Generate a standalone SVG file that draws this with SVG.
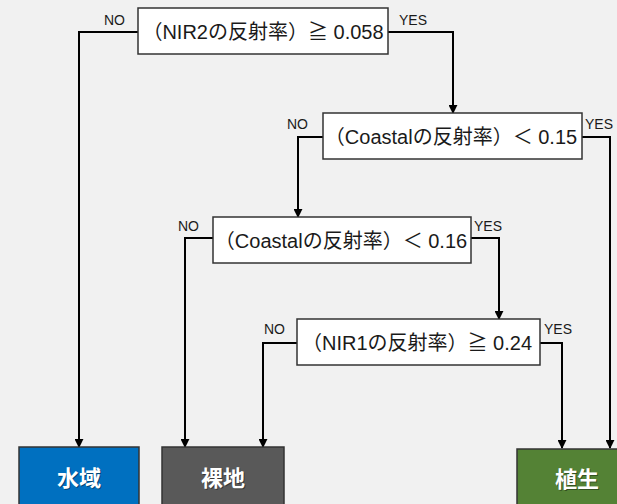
<svg xmlns="http://www.w3.org/2000/svg" width="617" height="504" viewBox="0 0 617 504">
<defs>
<style>
.cond{fill:#ffffff;stroke:#333333;stroke-width:1.5}
.ctext{font-family:"Liberation Sans","Noto Sans CJK JP",sans-serif;font-size:20px;fill:#1a1a1a;text-anchor:middle;dominant-baseline:central}
.lbl{font-family:"Liberation Sans","Noto Sans CJK JP",sans-serif;font-size:14px;fill:#1a1a1a}
.leaf{stroke:#333333;stroke-width:1.5}
.ltext{font-family:"Noto Sans CJK JP","Liberation Sans",sans-serif;font-size:22px;font-weight:bold;fill:#ffffff;text-anchor:middle;dominant-baseline:central}
.lshadow{font-family:"Noto Sans CJK JP","Liberation Sans",sans-serif;font-size:22px;font-weight:bold;fill:#000000;fill-opacity:0.4;text-anchor:middle;dominant-baseline:central}
.conn{fill:none;stroke:#000000;stroke-width:2;marker-end:url(#arr)}
</style>
<marker id="arr" viewBox="0 0 10 10" refX="9" refY="5" markerWidth="4.5" markerHeight="4.5" orient="auto" markerUnits="strokeWidth">
<path d="M0,0 L10,5 L0,10 z" fill="#000000"/>
</marker>
</defs>
<rect x="0" y="0" width="617" height="504" fill="#f1f1f1"/>
<g id="connectors">
<polyline class="conn" points="138,32 79,32 79,447"/>
<polyline class="conn" points="388,32 453,32 453,113"/>
<polyline class="conn" points="323,137 298,137 298,217"/>
<polyline class="conn" points="582,137 610,137 610,448"/>
<polyline class="conn" points="213,238 185,238 185,447"/>
<polyline class="conn" points="471,238 499,238 499,319"/>
<polyline class="conn" points="297,343 263,343 263,447"/>
<polyline class="conn" points="540,343 562,343 562,448"/>
</g>
<g id="labels">
<text class="lbl" x="104" y="25">NO</text>
<text class="lbl" x="399" y="25">YES</text>
<text class="lbl" x="287" y="129">NO</text>
<text class="lbl" x="585" y="129">YES</text>
<text class="lbl" x="178" y="231">NO</text>
<text class="lbl" x="474" y="231">YES</text>
<text class="lbl" x="264" y="334">NO</text>
<text class="lbl" x="544" y="334">YES</text>
</g>
<g id="node1">
<rect class="cond" x="138" y="8" width="250" height="46"/>
<text class="ctext" x="263" y="32">（NIR2の反射率）≧ 0.058</text>
</g>
<g id="node2">
<rect class="cond" x="323" y="113" width="259" height="46"/>
<text class="ctext" x="451" y="137">（Coastalの反射率）＜ 0.15</text>
</g>
<g id="node3">
<rect class="cond" x="213" y="217" width="258" height="46"/>
<text class="ctext" x="341" y="241">（Coastalの反射率）＜ 0.16</text>
</g>
<g id="node4">
<rect class="cond" x="297" y="319" width="243" height="46"/>
<text class="ctext" x="417" y="343">（NIR1の反射率）≧ 0.24</text>
</g>
<g id="leaf-water">
<rect class="leaf" x="19" y="447" width="120" height="70" fill="#0070c0"/>
<text class="lshadow" x="80" y="477">水域</text>
<text class="ltext" x="79" y="476">水域</text>
</g>
<g id="leaf-bare">
<rect class="leaf" x="162" y="447" width="122" height="70" fill="#595959"/>
<text class="lshadow" x="224" y="477">裸地</text>
<text class="ltext" x="223" y="476">裸地</text>
</g>
<g id="leaf-veg">
<rect class="leaf" x="517" y="449" width="120" height="70" fill="#548235"/>
<text class="lshadow" x="578" y="478">植生</text>
<text class="ltext" x="577" y="477">植生</text>
</g>
</svg>
